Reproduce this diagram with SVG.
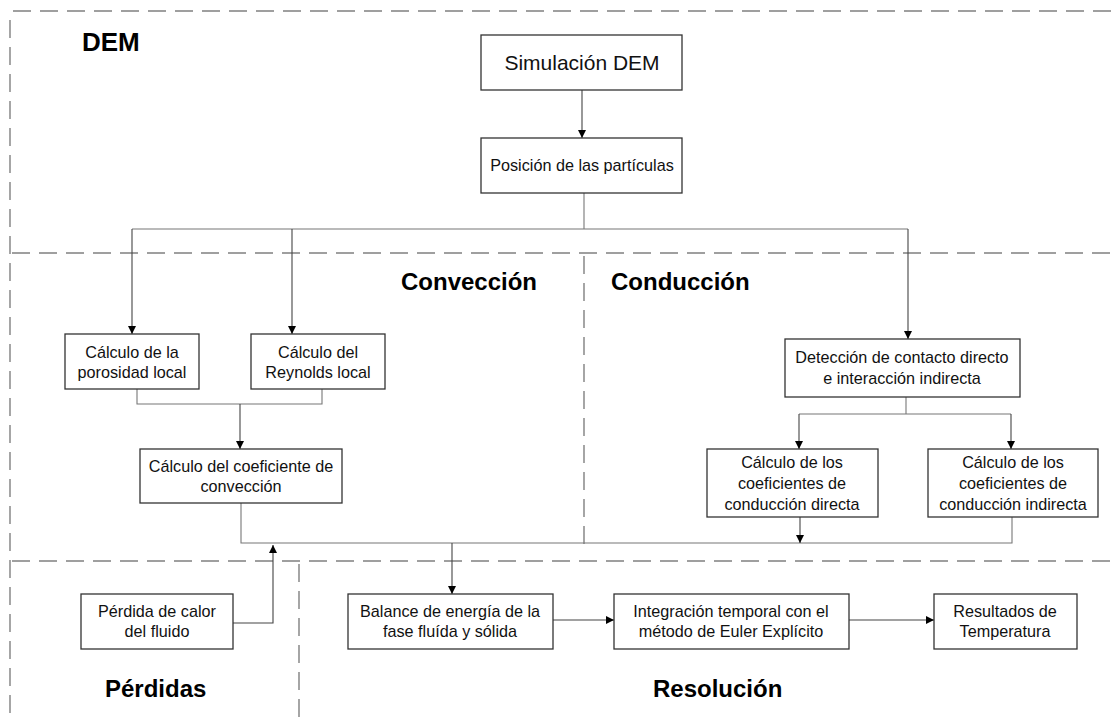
<svg xmlns="http://www.w3.org/2000/svg" width="1114" height="717" viewBox="0 0 1114 717">
<defs>
<marker id="ah" viewBox="0 0 10 10" refX="10" refY="5" markerWidth="8" markerHeight="8" markerUnits="userSpaceOnUse" orient="auto">
<path d="M0,0 L10,5 L0,10 Z" fill="#000"/>
</marker>
<style>
.bx{fill:#fff;stroke:#333;stroke-width:1.3}
.t{font-family:"Liberation Sans",Arial,sans-serif;font-size:16.2px;fill:#111;text-anchor:middle}
.big{font-family:"Liberation Sans",Arial,sans-serif;font-size:24px;font-weight:bold;fill:#000}
.dash{fill:none;stroke:#808080;stroke-width:1.4;stroke-dasharray:18 9}
.c{fill:none;stroke:#777;stroke-width:1.1}
.ca{fill:none;stroke:#444;stroke-width:1.1;marker-end:url(#ah)}
</style>
</defs>
<rect width="1114" height="717" fill="#fff"/>
<g id="regions">
<line class="dash" x1="13" y1="11" x2="1114" y2="11"/>
<line class="dash" x1="10" y1="20" x2="10" y2="717"/>
<line class="dash" x1="12" y1="253" x2="1114" y2="253"/>
<line class="dash" x1="12" y1="561" x2="1114" y2="561"/>
<line class="dash" x1="584" y1="256" x2="584" y2="552"/>
<line class="dash" x1="299" y1="564" x2="299" y2="717"/>
<text class="big" x="82" y="51" style="font-size:26px">DEM</text>
<text class="big" x="401" y="290">Convección</text>
<text class="big" x="611" y="290">Conducción</text>
<text class="big" x="105" y="697">Pérdidas</text>
<text class="big" x="653" y="697">Resolución</text>
</g>
<g id="connectors">
<line class="ca" x1="582" y1="90" x2="582" y2="138"/>
<polyline class="c" points="584,193 584,229"/>
<polyline class="c" points="132,229 908,229"/>
<line class="ca" x1="132" y1="229" x2="132" y2="334"/>
<line class="ca" x1="292" y1="229" x2="292" y2="334"/>
<line class="ca" x1="908" y1="229" x2="908" y2="339"/>
<polyline class="c" points="137,389 137,404 322,404 322,389"/>
<line class="ca" x1="240" y1="404" x2="240" y2="449"/>
<polyline class="c" points="906,397 906,414"/>
<polyline class="c" points="799,414 1011,414"/>
<line class="ca" x1="799" y1="414" x2="799" y2="449"/>
<line class="ca" x1="1011" y1="414" x2="1011" y2="449"/>
<polyline class="c" points="241,503 241,543 1012,543 1012,517"/>
<line class="ca" x1="800" y1="517" x2="800" y2="543"/>
<polyline class="ca" points="233,623 273,623 273,545"/>
<line class="ca" x1="452" y1="543" x2="452" y2="594"/>
<line class="ca" x1="553" y1="620" x2="614" y2="620"/>
<line class="ca" x1="849" y1="620" x2="934" y2="620"/>
</g>
<g id="n_sim"><rect class="bx" x="481" y="35" width="201" height="55"/><text class="t" x="582" y="70" style="font-size:21px">Simulación DEM</text></g>
<g id="n_pos"><rect class="bx" x="481" y="138" width="201" height="55"/><text class="t" x="582" y="171">Posición de las partículas</text></g>
<g id="n_por"><rect class="bx" x="65" y="334" width="134" height="55"/><text class="t" x="132" y="358">Cálculo de la</text><text class="t" x="132" y="378">porosidad local</text></g>
<g id="n_rey"><rect class="bx" x="251" y="334" width="134" height="55"/><text class="t" x="318" y="358">Cálculo del</text><text class="t" x="318" y="378">Reynolds local</text></g>
<g id="n_coef"><rect class="bx" x="140" y="449" width="202" height="54"/><text class="t" x="241" y="472">Cálculo del coeficiente de</text><text class="t" x="241" y="492">convección</text></g>
<g id="n_det"><rect class="bx" x="785" y="339" width="235" height="58"/><text class="t" x="902" y="363">Detección de contacto directo</text><text class="t" x="902" y="384">e interacción indirecta</text></g>
<g id="n_dir"><rect class="bx" x="707" y="449" width="171" height="68"/><text class="t" x="792" y="468">Cálculo de los</text><text class="t" x="792" y="489">coeficientes de</text><text class="t" x="792" y="510">conducción directa</text></g>
<g id="n_ind"><rect class="bx" x="928" y="449" width="170" height="68"/><text class="t" x="1013" y="468">Cálculo de los</text><text class="t" x="1013" y="489">coeficientes de</text><text class="t" x="1013" y="510">conducción indirecta</text></g>
<g id="n_perd"><rect class="bx" x="81" y="594" width="152" height="55"/><text class="t" x="157" y="617">Pérdida de calor</text><text class="t" x="157" y="637">del fluido</text></g>
<g id="n_bal"><rect class="bx" x="348" y="594" width="205" height="55"/><text class="t" x="450" y="617">Balance de energía de la</text><text class="t" x="450" y="637">fase fluída y sólida</text></g>
<g id="n_int"><rect class="bx" x="614" y="594" width="235" height="55"/><text class="t" x="731" y="617">Integración temporal con el</text><text class="t" x="731" y="637">método de Euler Explícito</text></g>
<g id="n_res"><rect class="bx" x="934" y="594" width="143" height="55"/><text class="t" x="1005" y="617">Resultados de</text><text class="t" x="1005" y="637">Temperatura</text></g>
</svg>
